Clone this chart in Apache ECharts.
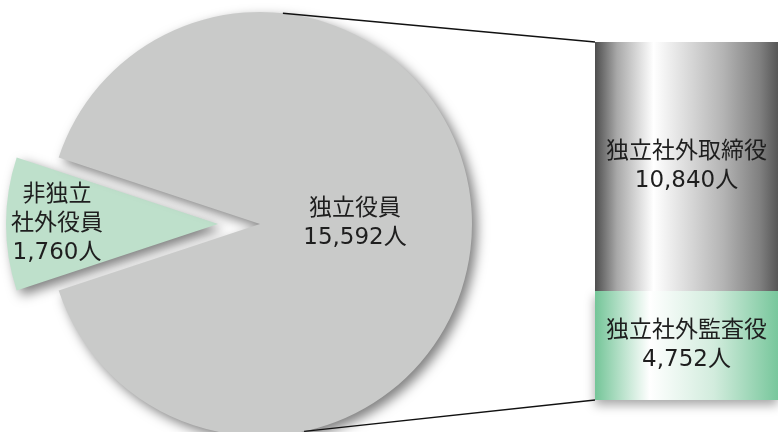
<!DOCTYPE html>
<html>
<head>
<meta charset="utf-8">
<script src="https://cdn.jsdelivr.net/npm/echarts@6/dist/echarts.min.js"></script>
<style>html,body{margin:0;padding:0;background:#fff;}#c{width:778px;height:432px;}</style>
</head>
<body>
<div id="c"></div>
<script>
// --- data ---
const pieNames = ['非独立\n社外役員', '独立役員'];
const pieValues = [1760, 15592];
const barCategories = ['独立役員内訳'];
const barNames = ['独立社外監査役', '独立社外取締役'];
const barValues = [4752, 10840];

const FONT = '"DejaVu Sans", "Noto Sans CJK JP", sans-serif';
const fmt = v => v.toLocaleString('en-US') + '人';
const total = pieValues[0] + pieValues[1];
const barTotal = barValues[0] + barValues[1];

const pieCenter = [260, 224];
const pieR = 212;

const chart = echarts.init(document.getElementById('c'), null, {renderer: 'canvas'});

const labelBase = {
  show: true, position: 'inside', color: '#1e1e1e', fontFamily: FONT,
  fontSize: 23, lineHeight: 29, fontWeight: 'normal',
  formatter: p => p.name + '\n' + fmt(p.value)
};

const option = {
  animation: false,
  backgroundColor: '#ffffff',
  grid: {left: 595, right: 0, top: 42, bottom: 32},
  xAxis: {type: 'category', data: barCategories, show: false},
  yAxis: {type: 'value', min: 0, max: barTotal, show: false},
  series: [
    {
      type: 'pie',
      center: pieCenter,
      radius: pieR,
      startAngle: 180 + (pieValues[0] / total) * 180,
      clockwise: true,
      selectedMode: 'single',
      selectedOffset: 42,
      emphasis: {disabled: true},
      labelLine: {show: false},
      itemStyle: {shadowBlur: 12, shadowOffsetX: 5, shadowOffsetY: 5, shadowColor: 'rgba(0,0,0,0.5)'},
      data: [
        {name: pieNames[0], value: pieValues[0], selected: true,
         itemStyle: {color: '#bee0cb'},
         label: Object.assign({}, labelBase, {padding: [0, 104, 0, 0]}),
         select: {itemStyle: {color: '#bee0cb'}}},
        {name: pieNames[1], value: pieValues[1],
         itemStyle: {color: '#c9cac9'},
         label: Object.assign({}, labelBase, {padding: [0, 28, 0, 0]})}
      ]
    },
    {
      type: 'bar', stack: 'b', barWidth: '100%', name: barNames[0],
      data: [barValues[0]],
      emphasis: {disabled: true},
      itemStyle: {
        color: new echarts.graphic.LinearGradient(0, 0, 1, 0, [
          {offset: 0, color: '#74c598'}, {offset: 0.3, color: '#ffffff'},
          {offset: 0.65, color: '#d2ecdd'}, {offset: 1, color: '#78c79c'}
        ]),
        shadowBlur: 10, shadowOffsetY: 5, shadowColor: 'rgba(0,0,0,0.35)'
      },
      label: Object.assign({}, labelBase, {formatter: p => p.seriesName + '\n' + fmt(p.value)})
    },
    {
      type: 'bar', stack: 'b', barWidth: '100%', name: barNames[1],
      data: [barValues[1]],
      emphasis: {disabled: true},
      itemStyle: {
        color: new echarts.graphic.LinearGradient(0, 0, 1, 0, [
          {offset: 0, color: '#4e4e4e'}, {offset: 0.12, color: '#a8a8a8'},
          {offset: 0.32, color: '#ffffff'}, {offset: 0.7, color: '#b4b4b4'},
          {offset: 0.9, color: '#808080'}, {offset: 1, color: '#565656'}
        ])
      },
      label: Object.assign({}, labelBase, {formatter: p => p.seriesName + '\n' + fmt(p.value)})
    }
  ]
};
chart.setOption(option);

// connector lines from pie edge to bar corners, computed from the axes
const barLeft = chart.convertToPixel({xAxisIndex: 0}, barCategories[0]) - (778 - 595) / 2;
const yTop = chart.convertToPixel({yAxisIndex: 0}, barTotal);
const yBot = chart.convertToPixel({yAxisIndex: 0}, 0);
const pt = deg => [pieCenter[0] + pieR * Math.cos(deg * Math.PI / 180), pieCenter[1] - pieR * Math.sin(deg * Math.PI / 180)];
const pTop = pt(83.8), pBot = pt(-78);
chart.setOption({
  graphic: [
    {type: 'line', shape: {x1: pTop[0], y1: pTop[1], x2: barLeft, y2: yTop}, style: {stroke: '#111', lineWidth: 1.3}, z: 10},
    {type: 'line', shape: {x1: pBot[0], y1: pBot[1], x2: barLeft, y2: yBot}, style: {stroke: '#111', lineWidth: 1.3}, z: 10}
  ]
});
</script>
</body>
</html>
